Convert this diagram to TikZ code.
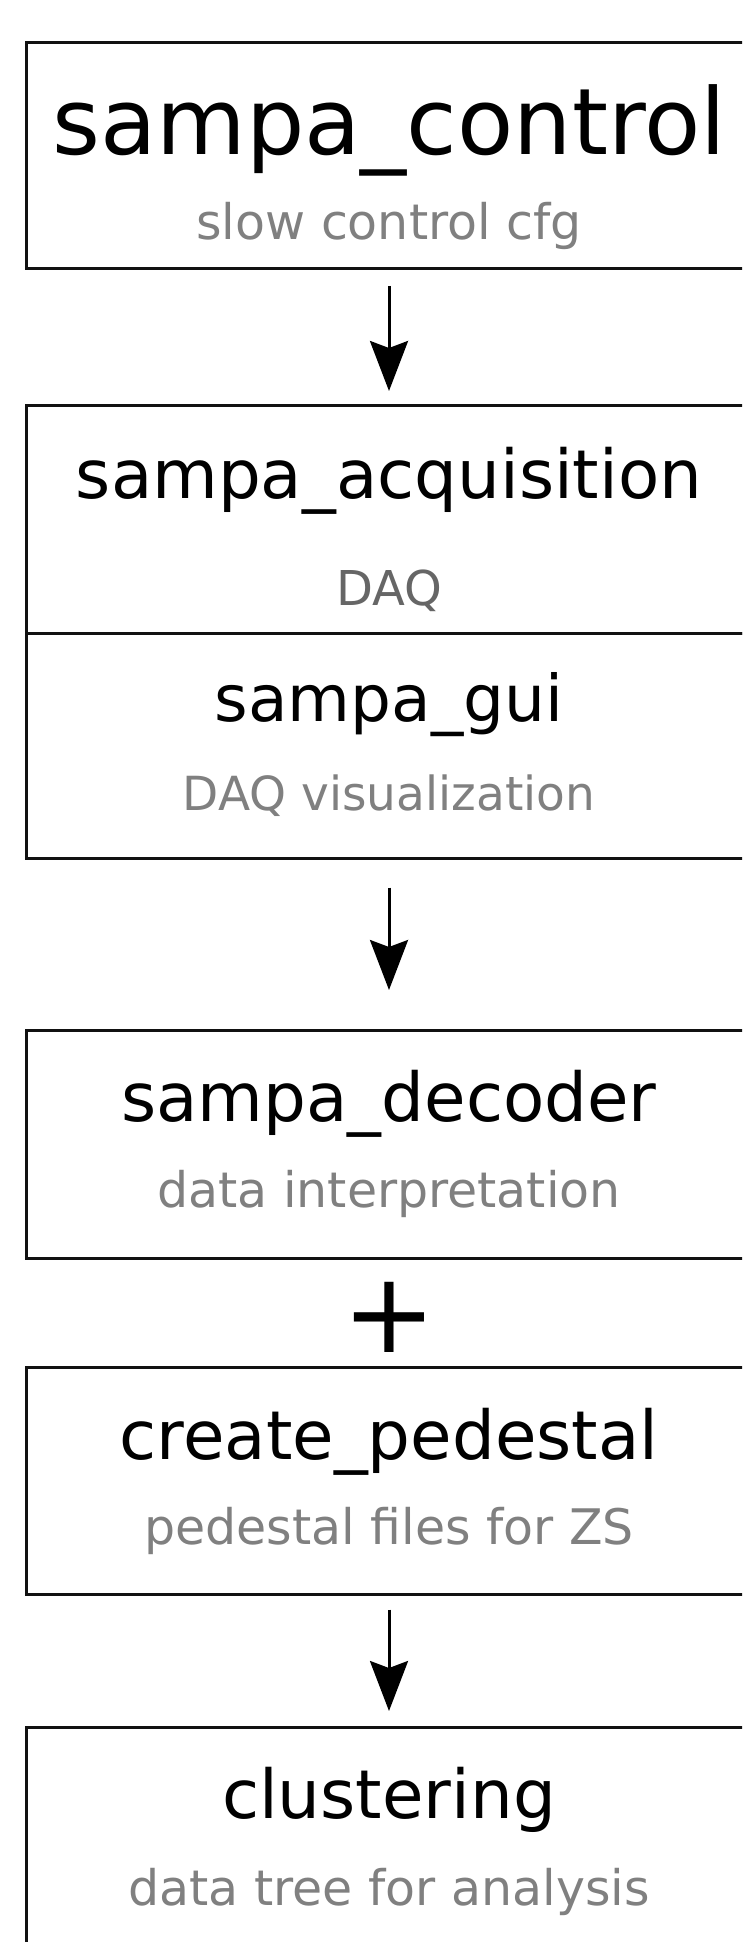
\documentclass[tikz,border=0pt]{standalone}
\usepackage{fontspec}
\setmainfont{DejaVu Sans}
\usetikzlibrary{arrows.meta}
\definecolor{subgray}{HTML}{808080}
\definecolor{daqgray}{HTML}{666666}
\definecolor{edge}{HTML}{111111}
\begin{document}
\begin{tikzpicture}[x=1pt,y=-1pt,
  stage/.style={draw=edge, line width=2.5pt, minimum width=725pt, inner sep=0pt, anchor=north},
  title/.style={anchor=base, inner sep=0pt, font=\fontsize{67.5}{80}\selectfont},
  bigtitle/.style={anchor=base, inner sep=0pt, font=\fontsize{92}{110}\selectfont},
  sub/.style={anchor=base, inner sep=0pt, text=subgray, font=\fontsize{49}{58}\selectfont},
  flow/.style={-{Stealth[length=50pt, width=38pt, inset=7pt]}, line width=3pt},
]
\clip (0,0) rectangle (742,1942);
\fill[white] (0,0) rectangle (742,1942);

% pipeline stages
\node[stage, minimum height=226pt] (ctrl) at (389,41.5) {};
\node[stage, minimum height=228pt] (acq)  at (389,404) {};
\node[stage, minimum height=225pt] (gui)  at (389,632) {};
\node[stage, minimum height=228pt] (dec)  at (389,1029) {};
\node[stage, minimum height=227pt] (ped)  at (389,1366) {};
\node[stage, minimum height=300pt] (clu)  at (389,1726) {};

% stage names and descriptions
\node[bigtitle] (ctrlT) at (389,155) {sampa\_control};
\node[sub]      (ctrlS) at (389,240) {slow control cfg};
\node[title]    (acqT)  at (389,498) {sampa\_acquisition};
\node[sub, text=daqgray, font=\fontsize{48}{58}\selectfont] (acqS) at (389,605) {DAQ};
\node[title, font=\fontsize{64.5}{78}\selectfont] (guiT) at (389,721) {sampa\_gui};
\node[sub, font=\fontsize{47}{56}\selectfont] (guiS) at (389,810) {DAQ visualization};
\node[title]    (decT)  at (389,1121) {sampa\_decoder};
\node[sub]      (decS)  at (389,1207) {data interpretation};
\node[title]    (pedT)  at (389,1459) {create\_pedestal};
\node[sub]      (pedS)  at (389,1544) {pedestal files for ZS};
\node[title]    (cluT)  at (389,1818) {clustering};
\node[sub]      (cluS)  at (389,1905) {data tree for analysis};

% decoder and pedestal run together
\node[inner sep=0pt, font=\fontsize{112}{130}\selectfont] (plus) at (389,1317) {+};

% data flow
\draw[flow, shorten <=16pt, shorten >=13pt] (ctrl.south) -- (acq.north);
\draw[flow, shorten <=28pt, shorten >=39pt] (gui.south) -- (dec.north);
\draw[flow, shorten <=14pt, shorten >=15pt] (ped.south) -- (clu.north);
\end{tikzpicture}
\end{document}
